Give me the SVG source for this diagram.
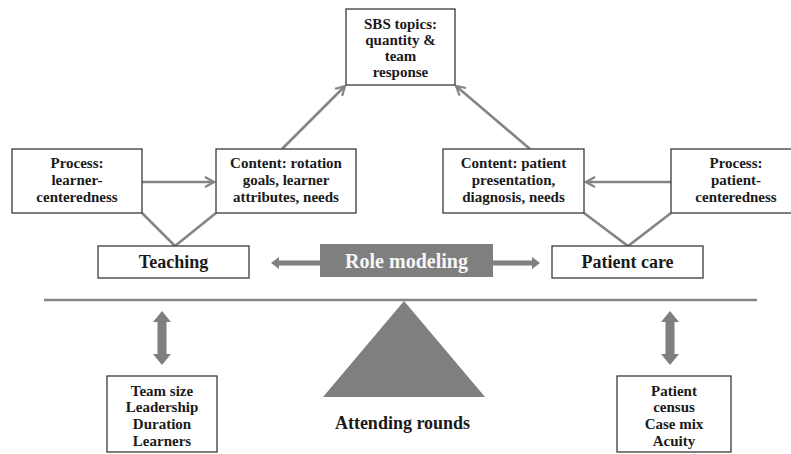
<svg xmlns="http://www.w3.org/2000/svg" width="791" height="454" viewBox="0 0 791 454">
<defs>
<style>
.box{fill:#fff;stroke:#3a3a3a;stroke-width:1.3}
.t{font-family:"Liberation Serif","Times New Roman",serif;font-weight:bold;fill:#1a1a1a;text-anchor:middle}
.s{font-size:15px}
.m{font-size:18px}
.c{fill:none;stroke:#858585;stroke-width:2.6}
.blk{fill:#7f7f7f;stroke:none}
</style>
<marker id="ah" viewBox="0 0 12 12" refX="10" refY="6" markerWidth="12" markerHeight="12" markerUnits="userSpaceOnUse" orient="auto">
<path d="M1,1 L10,6 L1,11" fill="none" stroke="#858585" stroke-width="2.2"/>
</marker>
</defs>
<g id="connectors">
<line class="c" x1="142" y1="182" x2="214" y2="182" marker-end="url(#ah)"/>
<line class="c" x1="671" y1="182" x2="586" y2="182" marker-end="url(#ah)"/>
<line class="c" x1="282" y1="149" x2="345" y2="86" marker-end="url(#ah)"/>
<line class="c" x1="530" y1="149" x2="456" y2="86" marker-end="url(#ah)"/>
<polyline class="c" points="142,213 175,246 216,213"/>
<polyline class="c" points="584,213 628,246 671,213"/>
<line x1="44" y1="300" x2="757" y2="300" stroke="#858585" stroke-width="2.4"/>
<polygon class="blk" points="271,263 279,257 279,260.5 320,260.5 320,265.5 279,265.5 279,269"/>
<polygon class="blk" points="540,263 532,257 532,260.5 493,260.5 493,265.5 532,265.5 532,269"/>
<polygon class="blk" points="162,311 171,322 166.5,322 166.5,354 171,354 162,365 153,354 157.5,354 157.5,322 153,322"/>
<polygon class="blk" points="670,311 679,322 674.5,322 674.5,354 679,354 670,365 661,354 665.5,354 665.5,322 661,322"/>
</g>
<g id="sbs">
<rect class="box" x="346" y="9" width="109" height="76"/>
<text class="t s" x="400.5" y="29">SBS topics:</text>
<text class="t s" x="400.5" y="45">quantity &amp;</text>
<text class="t s" x="400.5" y="61">team</text>
<text class="t s" x="400.5" y="77">response</text>
</g>
<g id="process-learner">
<rect class="box" x="12" y="149" width="130" height="64"/>
<text class="t s" x="77" y="168">Process:</text>
<text class="t s" x="77" y="185">learner-</text>
<text class="t s" x="77" y="202">centeredness</text>
</g>
<g id="content-teaching">
<rect class="box" x="216" y="149" width="140" height="64"/>
<text class="t s" x="286" y="168">Content: rotation</text>
<text class="t s" x="286" y="185">goals, learner</text>
<text class="t s" x="286" y="202">attributes, needs</text>
</g>
<g id="content-patient">
<rect class="box" x="443" y="149" width="141" height="64"/>
<text class="t s" x="513.5" y="168">Content: patient</text>
<text class="t s" x="513.5" y="185">presentation,</text>
<text class="t s" x="513.5" y="202">diagnosis, needs</text>
</g>
<g id="process-patient">
<rect class="box" x="671" y="149" width="130" height="64"/>
<text class="t s" x="736" y="168">Process:</text>
<text class="t s" x="736" y="185">patient-</text>
<text class="t s" x="736" y="202">centeredness</text>
</g>
<g id="teaching">
<rect class="box" x="98" y="246" width="151" height="32"/>
<text class="t m" x="173.5" y="268">Teaching</text>
</g>
<g id="role-modeling">
<rect x="320" y="244" width="173" height="33" fill="#7f7f7f"/>
<text class="t" x="406.5" y="268" style="font-size:20px;fill:#f7f7f7">Role modeling</text>
</g>
<g id="patient-care">
<rect class="box" x="552" y="246" width="151" height="32"/>
<text class="t m" x="627.5" y="268">Patient care</text>
</g>
<g id="fulcrum">
<polygon points="404,301 323,397 485,397" fill="#7f7f7f"/>
<text class="t m" x="402.5" y="429">Attending rounds</text>
</g>
<g id="team-factors">
<rect class="box" x="107" y="376" width="110" height="76"/>
<text class="t s" x="162" y="396">Team size</text>
<text class="t s" x="162" y="412">Leadership</text>
<text class="t s" x="162" y="429">Duration</text>
<text class="t s" x="162" y="446">Learners</text>
</g>
<g id="patient-factors">
<rect class="box" x="617" y="376" width="114" height="76"/>
<text class="t s" x="674" y="396">Patient</text>
<text class="t s" x="674" y="412">census</text>
<text class="t s" x="674" y="429">Case mix</text>
<text class="t s" x="674" y="446">Acuity</text>
</g>
</svg>
